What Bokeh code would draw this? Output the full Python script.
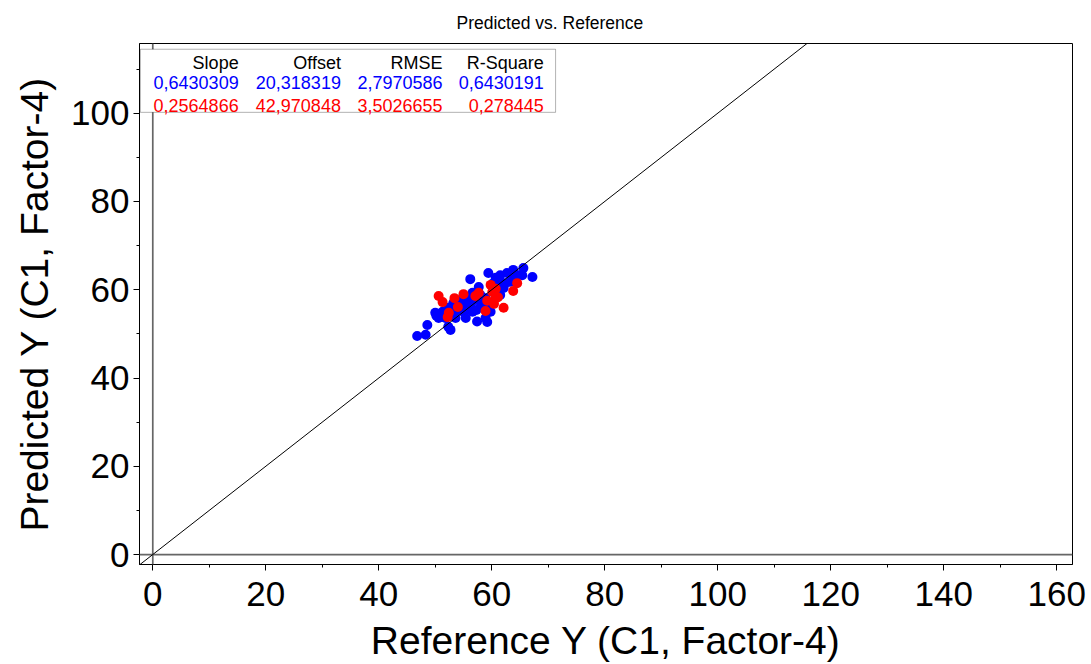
from bokeh.plotting import figure
from bokeh.models import Range1d, Span, Slope, Label, BoxAnnotation, SingleIntervalTicker
from bokeh.embed import file_html
from bokeh.resources import INLINE

# ---- data -------------------------------------------------------------
cal_x = [46.8, 48.3, 48.6, 50.0, 50.6, 50.9, 52.7, 52.3, 56.2, 57.4,
         58.9, 59.4, 60.7, 61.5, 62.7, 63.8, 65.6, 67.2, 65.4, 63.8,
         62.1, 61.5, 57.7, 56.6, 54.5, 53.2, 52.3, 51.3, 55.0, 56.6,
         58.0, 59.2, 59.8, 59.2, 55.5, 54.1, 55.9, 58.4, 60.7, 62.4,
         63.3, 64.7, 58.0, 51.8, 53.6, 55.4, 57.3, 56.2, 60.3, 57.1,
         54.8, 58.9, 50.2, 61.5, 53.6]
cal_y = [49.5, 49.8, 52.0, 54.8, 53.6, 54.5, 50.9, 51.6, 62.4, 52.8,
         53.6, 63.8, 62.7, 61.8, 63.8, 64.5, 64.9, 62.9, 63.3, 62.9,
         60.4, 58.8, 60.6, 59.3, 57.7, 57.0, 55.9, 55.0, 55.0, 55.0,
         56.1, 56.6, 55.0, 52.7, 56.6, 55.4, 58.1, 57.7, 60.0, 61.5,
         61.8, 63.3, 58.8, 53.6, 53.6, 53.6, 55.4, 56.3, 61.5, 57.7,
         56.3, 58.1, 54.1, 63.3, 55.4]
val_x = [50.6, 51.3, 52.4, 52.2, 53.4, 54.0, 55.0, 57.1, 57.7, 58.9,
         59.8, 60.1, 60.7, 60.4, 61.1, 62.1, 63.8, 64.5, 59.2, 60.7]
val_y = [58.6, 57.2, 54.8, 53.8, 58.1, 56.1, 59.0, 58.6, 59.3, 55.2,
         61.1, 59.5, 58.1, 56.8, 58.3, 55.9, 59.7, 61.5, 57.5, 60.2]

stat_headers = ["Slope", "Offset", "RMSE", "R-Square"]
cal_stats = ["0,6430309", "20,318319", "2,7970586", "0,6430191"]
val_stats = ["0,2564866", "42,970848", "3,5026655", "0,278445"]

title_text = "Predicted vs. Reference"
x_label = "Reference Y (C1, Factor-4)"
y_label = "Predicted Y (C1, Factor-4)"

# ---- figure -----------------------------------------------------------
FONT = "Liberation Sans, Arial, sans-serif"

p = figure(width=1091, height=664, output_backend="svg", toolbar_location=None,
           x_range=Range1d(-2.35, 162.8), y_range=Range1d(-2.26, 115.8),
           min_border_left=139, min_border_right=19, min_border_top=43,
           min_border_bottom=99)
p.background_fill_color = "white"
p.border_fill_color = "white"
p.outline_line_color = "black"
p.outline_line_width = 1
p.grid.visible = False

p.title.text = title_text
p.title.align = "left"
p.title.offset = 317
p.title.text_font = "Liberation Sans Narrow, Liberation Sans, Arial"
p.title.text_font_size = "17.5px"
p.title.text_font_style = "normal"
p.title.text_color = "black"
p.title.standoff = 21

for ax in (p.xaxis[0], p.yaxis[0]):
    ax.ticker = SingleIntervalTicker(interval=20, num_minor_ticks=2)
    ax.major_label_text_font = FONT
    ax.major_label_text_font_size = "35px"
    ax.major_label_text_color = "black"
    ax.axis_label_text_font = FONT
    ax.axis_label_text_font_size = "39px"
    ax.axis_label_text_font_style = "normal"
    ax.axis_label_text_color = "black"
    ax.axis_line_color = "black"
    ax.major_tick_line_color = "black"
    ax.minor_tick_line_color = "black"
    ax.major_tick_in = 0
    ax.major_tick_out = 6
    ax.minor_tick_in = 0
    ax.minor_tick_out = 3

p.xaxis[0].axis_label = x_label
p.yaxis[0].axis_label = y_label
p.xaxis[0].major_label_standoff = 11
p.yaxis[0].major_label_standoff = 4
p.xaxis[0].axis_label_standoff = 10
p.yaxis[0].axis_label_standoff = 12

# zero lines and target line
p.add_layout(Span(location=0, dimension="height", line_color="#666666", line_width=1.7))
p.add_layout(Span(location=0, dimension="width", line_color="#666666", line_width=1.7))
p.add_layout(Slope(gradient=1, y_intercept=0, line_color="black", line_width=1))

p.scatter(cal_x, cal_y, size=10, color="#0000ff", line_color=None)
p.scatter(val_x, val_y, size=10, color="#ff0000", line_color=None)

# statistics table
p.add_layout(BoxAnnotation(left=-2.2, right=71.3, bottom=100.2, top=114.5,
                           fill_color="white", fill_alpha=1.0,
                           line_color="black", line_width=1, level="overlay"))
col_x = [15.2, 33.3, 51.3, 69.2]
rows = [(stat_headers, "black", 111.4), (cal_stats, "#0000ff", 106.9), (val_stats, "#ff0000", 101.7)]
for texts, color, yy in rows:
    for cx, t in zip(col_x, texts):
        p.add_layout(Label(x=cx, y=yy, text=t, text_align="right", text_baseline="middle",
                           text_font=FONT, text_font_size="18px", text_color=color,
                           level="overlay"))

open("out.html", "w").write(file_html(p, INLINE))
